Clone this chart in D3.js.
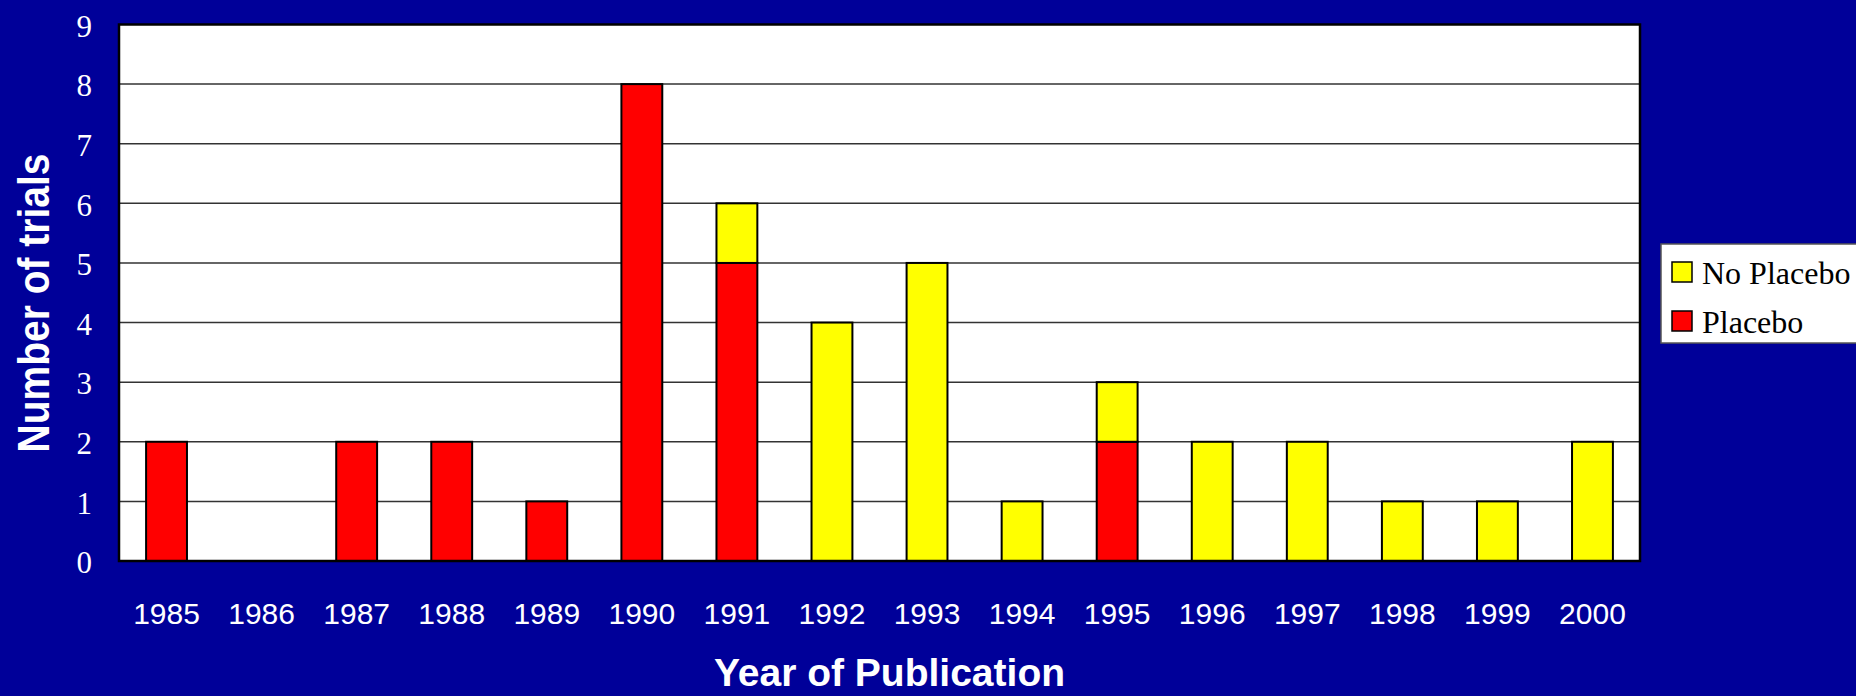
<!DOCTYPE html>
<html>
<head>
<meta charset="utf-8">
<script src="https://cdn.jsdelivr.net/npm/d3@7"></script>
<style>
  html, body { margin: 0; padding: 0; background: #000099; }
  svg { display: block; }
</style>
</head>
<body>
<svg></svg>
<script>

// data
let years = ['1985', '1986', '1987', '1988', '1989', '1990', '1991', '1992',
             '1993', '1994', '1995', '1996', '1997', '1998', '1999', '2000']
let placebo   = [2, 0, 2, 2, 1, 8, 5, 0, 0, 0, 2, 0, 0, 0, 0, 0]
let noPlacebo = [0, 0, 0, 0, 0, 0, 1, 4, 5, 1, 1, 2, 2, 1, 1, 2]
let seriesNames = ['Placebo', 'No Placebo']
let seriesColors = ['#ff0000', '#ffff00']
let yTicks = [0, 1, 2, 3, 4, 5, 6, 7, 8, 9]

let width = 1856, height = 696
let plot = { left: 119, right: 1640, top: 24.5, bottom: 561 }

let svg = d3.select('svg').attr('width', width).attr('height', height)

svg.append('rect')
  .attr('width', width).attr('height', height)
  .attr('fill', '#000099')

let x = d3.scaleBand()
  .domain(years)
  .range([plot.left, plot.right])
  .paddingInner(0.57)
  .paddingOuter(0.285)

let y = d3.scaleLinear()
  .domain([0, 9])
  .range([plot.bottom, plot.top])

// plot background
svg.append('rect')
  .attr('x', plot.left).attr('y', plot.top)
  .attr('width', plot.right - plot.left)
  .attr('height', plot.bottom - plot.top)
  .attr('fill', '#ffffff')

// gridlines
svg.append('g')
  .selectAll('line')
  .data(yTicks.slice(1, -1))
  .enter().append('line')
  .attr('x1', plot.left).attr('x2', plot.right)
  .attr('y1', d => y(d)).attr('y2', d => y(d))
  .attr('stroke', '#333333')
  .attr('stroke-width', 1.5)

// stacked bars
let table = years.map((yr, i) => ({ year: yr, 'Placebo': placebo[i], 'No Placebo': noPlacebo[i] }))
let stack = d3.stack().keys(seriesNames)(table)

svg.append('g')
  .selectAll('g')
  .data(stack)
  .enter().append('g')
  .attr('fill', (d, i) => seriesColors[i])
  .selectAll('rect')
  .data(d => d.filter(v => v[1] - v[0] > 0))
  .enter().append('rect')
  .attr('x', d => x(d.data.year))
  .attr('width', x.bandwidth())
  .attr('y', d => y(d[1]))
  .attr('height', d => y(d[0]) - y(d[1]))
  .attr('stroke', '#000')
  .attr('stroke-width', 2)

// frame
svg.append('rect')
  .attr('x', plot.left).attr('y', plot.top)
  .attr('width', plot.right - plot.left)
  .attr('height', plot.bottom - plot.top)
  .attr('fill', 'none')
  .attr('stroke', '#000')
  .attr('stroke-width', 2.5)

// y axis labels
let yAxis = d3.axisLeft(y).tickValues(yTicks).tickSize(0).tickPadding(27)
let gy = svg.append('g')
  .attr('transform', `translate(${plot.left},0)`)
  .call(yAxis)
gy.select('.domain').remove()
gy.selectAll('text')
  .attr('fill', '#fff')
  .attr('dy', '0.38em')
  .style('font-family', '"Liberation Serif", "Times New Roman", serif')
  .style('font-size', '31px')

// x axis labels
let xAxis = d3.axisBottom(x).tickSize(0).tickPadding(0)
let gx = svg.append('g')
  .attr('transform', `translate(0,${plot.bottom})`)
  .call(xAxis)
gx.select('.domain').remove()
gx.selectAll('text')
  .attr('fill', '#fff')
  .attr('y', 63)
  .attr('dy', 0)
  .style('font-family', '"Liberation Sans", Arial, sans-serif')
  .style('font-size', '30px')

// axis titles
svg.append('text')
  .attr('x', (plot.left + plot.right) / 2 + 10)
  .attr('y', 686)
  .attr('text-anchor', 'middle')
  .attr('fill', '#fff')
  .style('font-family', '"Liberation Sans", Arial, sans-serif')
  .style('font-weight', 'bold')
  .style('font-size', '39px')
  .text('Year of Publication')

svg.append('text')
  .attr('transform', 'translate(49,303) rotate(-90) scale(1,1.15)')
  .attr('text-anchor', 'middle')
  .attr('fill', '#fff')
  .style('font-family', '"Liberation Sans", Arial, sans-serif')
  .style('font-weight', 'bold')
  .style('font-size', '39px')
  .text('Number of trials')

// legend
let legend = svg.append('g')
legend.append('rect')
  .attr('x', 1661).attr('y', 244)
  .attr('width', 200).attr('height', 99)
  .attr('fill', '#fff')
  .attr('stroke', '#555')
  .attr('stroke-width', 1.5)

let legendItems = [
  { name: seriesNames[1], color: seriesColors[1] },
  { name: seriesNames[0], color: seriesColors[0] }
]
let li = legend.selectAll('g.item')
  .data(legendItems)
  .enter().append('g')
  .attr('class', 'item')
  .attr('transform', (d, i) => `translate(0,${i * 49})`)
li.append('rect')
  .attr('x', 1672).attr('y', 262)
  .attr('width', 20).attr('height', 20)
  .attr('fill', d => d.color)
  .attr('stroke', '#000')
  .attr('stroke-width', 1.5)
li.append('text')
  .attr('x', 1702).attr('y', 284)
  .attr('fill', '#000')
  .style('font-family', '"Liberation Serif", "Times New Roman", serif')
  .style('font-size', '32px')
  .text(d => d.name)

</script>
</body>
</html>
